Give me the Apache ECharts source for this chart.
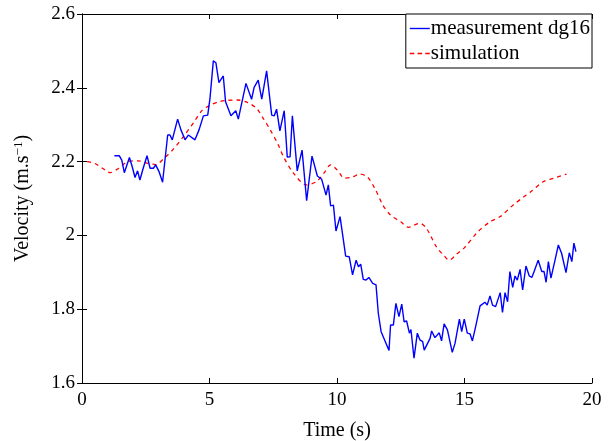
<!DOCTYPE html>
<html>
<head>
<meta charset="utf-8">
<script src="https://cdn.jsdelivr.net/npm/echarts@6/dist/echarts.min.js"></script>
<style>
  html, body { margin: 0; padding: 0; background: #fff; }
  #chart { width: 612px; height: 441px; }
</style>
</head>
<body>
<div id="chart"></div>
<script>
// measurement dg16 (blue, noisy)
const measTime = [1.27, 1.46, 1.56, 1.66, 1.86, 1.97, 2.08, 2.18, 2.27, 2.40, 2.55, 2.67, 2.80, 2.89, 3.02, 3.16,
  3.36, 3.45, 3.54, 3.75, 3.88, 4.04, 4.17, 4.43, 4.59, 4.76, 4.93, 5.02, 5.15, 5.25, 5.37, 5.54, 5.63, 5.84,
  6.03, 6.13, 6.43, 6.65, 6.75, 6.91, 7.05, 7.24, 7.44, 7.54, 7.63, 7.76, 7.93, 8.05, 8.16, 8.25, 8.44, 8.63,
  8.81, 9.02, 9.23, 9.40, 9.57, 9.66, 9.75, 9.86, 9.96, 10.12, 10.34, 10.48, 10.61, 10.75, 10.84, 10.93, 11.03,
  11.14, 11.25, 11.40, 11.53, 11.62, 11.73, 12.04, 12.10, 12.21, 12.31, 12.43, 12.54, 12.63, 12.73, 12.84,
  12.90, 13.02, 13.15, 13.25, 13.36, 13.42, 13.65, 13.71, 13.84, 14.01, 14.10, 14.20, 14.33, 14.40, 14.52,
  14.63, 14.80, 14.89, 14.99, 15.11, 15.22, 15.31, 15.45, 15.61, 15.80, 15.89, 16.00, 16.10, 16.22, 16.40,
  16.49, 16.59, 16.69, 16.78, 16.89, 16.98, 17.07, 17.18, 17.28, 17.41, 17.54, 17.64, 17.73, 17.80, 17.89,
  18.03, 18.12, 18.20, 18.29, 18.39, 18.55, 18.68, 18.81, 18.98, 19.11, 19.21, 19.29, 19.37]
const measVel = [2.216, 2.216, 2.204, 2.170, 2.211, 2.186, 2.157, 2.175, 2.150, 2.182, 2.216, 2.182, 2.182, 2.191, 2.173, 2.144,
  2.272, 2.272, 2.259, 2.315, 2.286, 2.259, 2.272, 2.259, 2.286, 2.324, 2.326, 2.372, 2.473, 2.468, 2.414, 2.432, 2.362, 2.324,
  2.338, 2.315, 2.412, 2.369, 2.401, 2.421, 2.369, 2.446, 2.326, 2.324, 2.342, 2.283, 2.338, 2.212, 2.213, 2.324, 2.175, 2.231,
  2.094, 2.215, 2.161, 2.152, 2.109, 2.137, 2.080, 2.082, 2.012, 2.051, 1.944, 1.942, 1.893, 1.933, 1.915, 1.922, 1.881,
  1.879, 1.886, 1.870, 1.866, 1.789, 1.739, 1.688, 1.757, 1.757, 1.816, 1.780, 1.814, 1.766, 1.768, 1.735,
  1.745, 1.667, 1.735, 1.717, 1.712, 1.689, 1.721, 1.741, 1.723, 1.736, 1.714, 1.760, 1.744, 1.744, 1.683,
  1.708, 1.773, 1.739, 1.773, 1.735, 1.733, 1.714, 1.757, 1.809, 1.819, 1.811, 1.836, 1.811, 1.807, 1.845,
  1.791, 1.845, 1.820, 1.902, 1.859, 1.890, 1.879, 1.908, 1.852, 1.917, 1.890, 1.886, 1.902, 1.899, 1.933,
  1.902, 1.902, 1.873, 1.929, 1.884, 1.933, 1.974, 1.951, 1.899, 1.953, 1.929, 1.979, 1.956]

// simulation (red, dashed)
const simTime = [0.2, 0.5, 0.8, 1.1, 1.4, 1.8, 2.2, 2.6, 2.9, 3.2, 3.6, 4.0, 4.4, 4.7, 5.0, 5.35, 5.7, 6.1, 6.5,
  6.85, 7.1, 7.4, 7.7, 7.9, 8.3, 8.8, 9.2, 9.5, 9.75, 10.0, 10.3, 10.6, 10.9, 11.2, 11.5, 11.8, 12.1, 12.5,
  12.8, 13.25, 13.5, 13.9, 14.2, 14.4, 14.7, 15.0, 15.5, 16.0, 16.4, 16.9, 17.3, 17.6, 18.1, 18.5, 19.0]
const simVel = [2.200, 2.195, 2.182, 2.170, 2.180, 2.200, 2.202, 2.195, 2.192, 2.208, 2.235, 2.270, 2.308, 2.338, 2.352, 2.362, 2.366, 2.367, 2.360,
  2.344, 2.318, 2.284, 2.245, 2.213, 2.168, 2.137, 2.146, 2.170, 2.191, 2.178, 2.155, 2.158, 2.166, 2.158, 2.125, 2.082, 2.055, 2.037,
  2.022, 2.033, 2.020, 1.969, 1.945, 1.933, 1.950, 1.967, 2.008, 2.037, 2.051, 2.082, 2.103, 2.118, 2.146, 2.155, 2.166]

const xTicks = [0, 5, 10, 15, 20]
const yTicks = [1.6, 1.8, 2, 2.2, 2.4, 2.6]

const font = 'Liberation Serif'
const chart = echarts.init(document.getElementById('chart'))

const boxAxisX = {
  type: 'value', min: 0, max: 20, interval: 5,
  axisLine: { show: true, lineStyle: { color: '#000', width: 1 } },
  axisTick: { show: true, inside: true, length: 5, lineStyle: { color: '#000' } },
  splitLine: { show: false }
}
const boxAxisY = {
  type: 'value', min: 1.6, max: 2.6, interval: 0.2,
  axisLine: { show: true, lineStyle: { color: '#000', width: 1 } },
  axisTick: { show: true, inside: true, length: 5, lineStyle: { color: '#000' } },
  splitLine: { show: false }
}

// legend icons: solid bar and three dashes
const solidIcon = 'path://M0,0h22v1.5h-22z'
const dashIcon = 'path://M0,0h5v1.5h-5z M8.5,0h5v1.5h-5z M17,0h5v1.5h-5z'

chart.setOption({
  animation: false,
  textStyle: { fontFamily: font },
  grid: { left: 82, right: 20, top: 14, bottom: 58, containLabel: false, outerBoundsMode: 'none' },
  xAxis: [
    Object.assign({}, boxAxisX, {
      position: 'bottom',
      name: 'Time (s)',
      nameLocation: 'middle',
      nameGap: 38,
      nameTextStyle: { fontFamily: font, fontSize: 20, color: '#000' },
      axisLabel: {
        color: '#000', fontFamily: font, fontSize: 19, margin: 8,
        formatter: v => xTicks.includes(v) ? String(v) : ''
      }
    }),
    Object.assign({}, boxAxisX, { position: 'top', axisLabel: { show: false } })
  ],
  yAxis: [
    Object.assign({}, boxAxisY, {
      position: 'left',
      name: 'Velocity (m.s{sup|−1})',
      nameLocation: 'middle',
      nameGap: 48,
      nameRotate: 90,
      nameTextStyle: {
        fontFamily: font, fontSize: 20, color: '#000',
        rich: { sup: { fontFamily: font, fontSize: 13, verticalAlign: 'top', padding: [0, 0, 9, 0], color: '#000' } }
      },
      axisLabel: {
        color: '#000', fontFamily: font, fontSize: 19, margin: 7,
        formatter: v => {
          const t = yTicks.find(y => Math.abs(y - v) < 1e-6)
          return t === undefined ? '' : String(t)
        }
      }
    }),
    Object.assign({}, boxAxisY, { position: 'right', axisLabel: { show: false } })
  ],
  legend: {
    orient: 'vertical',
    right: 20,
    top: 14,
    backgroundColor: '#fff',
    borderColor: '#000',
    borderWidth: 1,
    borderRadius: 0,
    padding: [4, 2, 4, 4],
    itemGap: 4,
    itemWidth: 20,
    itemHeight: 1.5,
    textStyle: { fontFamily: font, fontSize: 21, color: '#000', padding: [0, 0, 0, -4] },
    data: [
      { name: 'measurement dg16', icon: solidIcon, itemStyle: { color: '#0000ff' } },
      { name: 'simulation', icon: dashIcon, itemStyle: { color: '#ff0000' } }
    ]
  },
  series: [
    {
      name: 'measurement dg16',
      type: 'line',
      symbol: 'none',
      data: measTime.map((t, i) => [t, measVel[i]]),
      lineStyle: { color: '#0000ff', width: 1.4 },
      itemStyle: { color: '#0000ff' },
      z: 3
    },
    {
      name: 'simulation',
      type: 'line',
      symbol: 'none',
      smooth: 0.3,
      data: simTime.map((t, i) => [t, simVel[i]]),
      lineStyle: { color: '#ff0000', width: 1.3, type: [4, 4] },
      itemStyle: { color: '#ff0000' },
      z: 2
    }
  ]
})
</script>
</body>
</html>
